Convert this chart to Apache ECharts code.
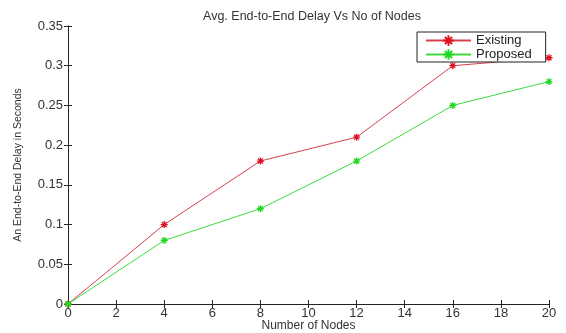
<!DOCTYPE html>
<html><head><meta charset="utf-8">
<script src="https://cdn.jsdelivr.net/npm/echarts@6/dist/echarts.min.js"></script>
<style>html,body{margin:0;padding:0;background:#fff}#c{width:566px;height:333px}</style>
</head><body><div id="c"></div>
<script>
const nodes = [0, 4, 8, 12, 16, 20];
const existing = [0, 0.10, 0.18, 0.21, 0.30, 0.31];
const proposed = [0, 0.08, 0.12, 0.18, 0.25, 0.28];
const seriesNames = ['Existing', 'Proposed'];
const titleText = 'Avg. End-to-End Delay Vs No of Nodes';
const xName = 'Number of Nodes';
const yName = 'An End-to-End Delay in Seconds';

const FONT = 'Liberation Sans, Arial, sans-serif';
const star = 'path://M0,-5L0,5M-5,0L5,0M-3.5,-3.5L3.5,3.5M-3.5,3.5L3.5,-3.5';
const chart = echarts.init(document.getElementById('c'));
const axisLine = {show: true, lineStyle: {color: '#222', width: 1}};
const tick = {show: true, inside: true, length: 4, lineStyle: {color: '#222'}};
const lbl = {color: '#333', fontFamily: FONT, fontSize: 13};
chart.setOption({
  animation: false,
  backgroundColor: '#fff',
  title: {text: titleText, left: 307, top: 5, textAlign: 'center',
    textStyle: {fontFamily: FONT, fontSize: 12.5, fontWeight: 'normal', color: '#333'}},
  grid: {left: 68, right: 17, top: 26, bottom: 29, outerBoundsMode: 'none', containLabel: false},
  legend: {
    orient: 'vertical', left: 417, top: 32, width: 126,
    backgroundColor: '#fff', borderColor: '#222', borderWidth: 1,
    padding: [2, 14, 1, 8], itemGap: 1, itemWidth: 45, itemHeight: 13,
    textStyle: {fontFamily: FONT, fontSize: 13, color: '#222'},
    data: seriesNames
  },
  xAxis: [
    {type: 'value', min: 0, max: 20, interval: 2, name: xName, nameLocation: 'middle', nameGap: 16,
     nameMoveOverlap: false,
     nameTextStyle: {fontFamily: FONT, fontSize: 12, color: '#333'},
     axisLine, axisTick: tick, axisLabel: Object.assign({margin: 3}, lbl), splitLine: {show: false}},
    {type: 'value', position: 'top', min: 0, max: 20, interval: 2,
     axisLine, axisTick: tick, axisLabel: {show: false}, splitLine: {show: false}}
  ],
  yAxis: [
    {type: 'value', min: 0, max: 0.35, interval: 0.05, name: yName, nameLocation: 'middle', nameGap: 44,
     nameMoveOverlap: false,
     nameTextStyle: {fontFamily: FONT, fontSize: 10.5, color: '#333'},
     axisLine, axisTick: tick, axisLabel: Object.assign({margin: 5}, lbl), splitLine: {show: false}},
    {type: 'value', position: 'right', min: 0, max: 0.35, interval: 0.05,
     axisLine, axisTick: tick, axisLabel: {show: false}, splitLine: {show: false}}
  ],
  series: [
    {name: seriesNames[0], type: 'line', data: nodes.map((x, i) => [x, existing[i]]),
     symbol: star, symbolSize: 7, showAllSymbol: true,
     lineStyle: {color: '#d8404e', width: 1},
     itemStyle: {color: '#e01020', borderColor: '#e01020', borderWidth: 1.3}},
    {name: seriesNames[1], type: 'line', data: nodes.map((x, i) => [x, proposed[i]]),
     symbol: star, symbolSize: 7, showAllSymbol: true,
     lineStyle: {color: '#3cdc3c', width: 1},
     itemStyle: {color: '#20d820', borderColor: '#20d820', borderWidth: 1.3}}
  ]
});
</script></body></html>
